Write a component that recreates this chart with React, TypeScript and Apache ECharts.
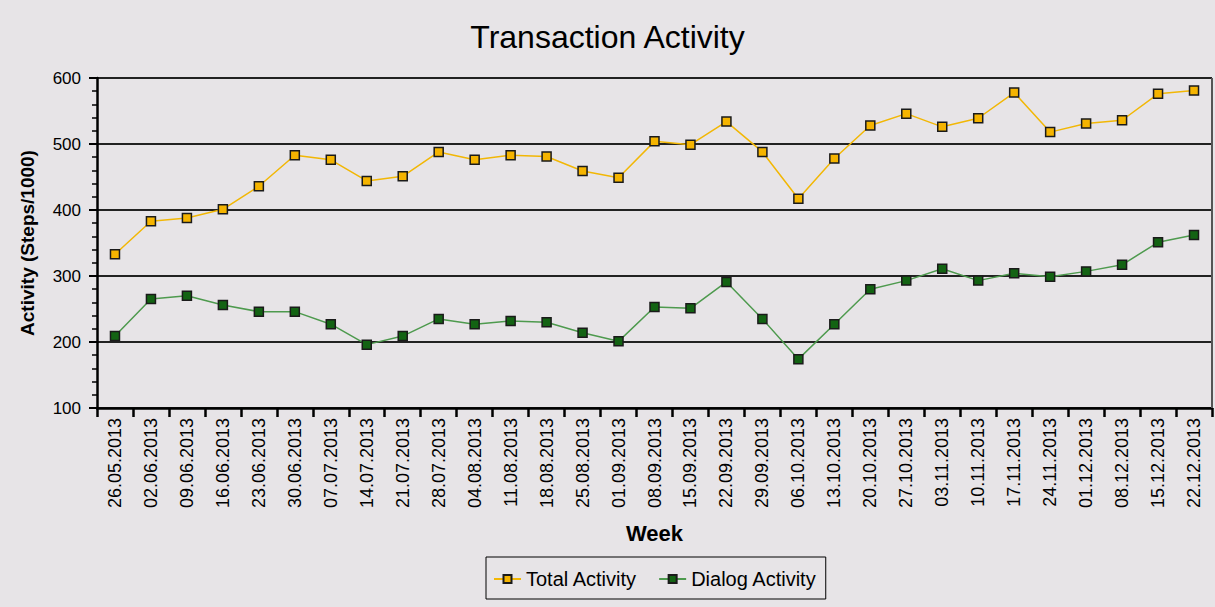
import React, { useEffect, useRef } from "react";
import * as echarts from "echarts";

const weeks = [
  "26.05.2013", "02.06.2013", "09.06.2013", "16.06.2013", "23.06.2013", "30.06.2013",
  "07.07.2013", "14.07.2013", "21.07.2013", "28.07.2013", "04.08.2013", "11.08.2013",
  "18.08.2013", "25.08.2013", "01.09.2013", "08.09.2013", "15.09.2013", "22.09.2013",
  "29.09.2013", "06.10.2013", "13.10.2013", "20.10.2013", "27.10.2013", "03.11.2013",
  "10.11.2013", "17.11.2013", "24.11.2013", "01.12.2013", "08.12.2013", "15.12.2013",
  "22.12.2013",
];

const totalActivity = [
  333, 383, 388, 401, 436, 483, 476, 444, 451, 488, 476, 483, 481, 459, 449, 504,
  499, 534, 488, 417, 478, 528, 546, 526, 539, 578, 518, 531, 536, 576, 581,
];

const dialogActivity = [
  209, 265, 270, 256, 246, 246, 227, 196, 209, 235, 227, 232, 230, 214, 201, 253,
  251, 291, 235, 174, 227, 280, 293, 311, 293, 304, 299, 307, 317, 351, 362,
];

const FONT = "'Liberation Sans', Arial, sans-serif";

export default function App() {
  const ref = useRef<HTMLDivElement>(null);
  useEffect(() => {
    if (!ref.current) return;
    const chart = echarts.init(ref.current, undefined, { renderer: "svg" });
    chart.setOption({
      animation: false,
      backgroundColor: "#e7e4e7",
      textStyle: { fontFamily: FONT },
      title: {
        text: "Transaction Activity",
        left: "center",
        top: 16,
        textStyle: { fontFamily: FONT, fontSize: 32, fontWeight: "normal", color: "#000" },
      },
      legend: {
        bottom: 8,
        left: 486,
        itemGap: 21,
        itemWidth: 27,
        itemHeight: 10,
        padding: [12, 9, 10, 7],
        borderColor: "#000",
        borderWidth: 1,
        textStyle: { fontFamily: FONT, fontSize: 20, color: "#000" },
        data: ["Total Activity", "Dialog Activity"],
      },
      grid: { left: 97, right: 3, top: 78, bottom: 199, containLabel: false },
      xAxis: {
        type: "category",
        data: weeks,
        boundaryGap: true,
        name: "Week",
        nameLocation: "middle",
        nameGap: 114,
        nameTextStyle: { fontFamily: FONT, fontSize: 22, fontWeight: "bold", color: "#000" },
        axisLine: { lineStyle: { color: "#000", width: 2.5 } },
        axisTick: { show: true, length: 9, lineStyle: { color: "#000", width: 2.5 } },
        axisLabel: {
          rotate: 90,
          interval: 0,
          margin: 10,
          fontSize: 18,
          color: "#000",
          fontFamily: FONT,
        },
        splitLine: { show: false },
      },
      yAxis: {
        type: "value",
        min: 100,
        max: 600,
        interval: 100,
        name: "Activity (Steps/1000)",
        nameLocation: "middle",
        nameGap: 60,
        nameTextStyle: { fontFamily: FONT, fontSize: 19, fontWeight: "bold", color: "#000" },
        axisLine: { show: true, lineStyle: { color: "#000", width: 2.5 } },
        axisTick: { show: true, length: 8, lineStyle: { color: "#000", width: 2 } },
        minorTick: { show: true, splitNumber: 5, length: 5, lineStyle: { color: "#000", width: 1.5 } },
        axisLabel: { fontSize: 17, color: "#000", fontFamily: FONT, margin: 16 },
        splitLine: { show: true, lineStyle: { color: "#222", width: 1.8 } },
      },
      series: [
        {
          name: "Total Activity",
          type: "line",
          data: totalActivity,
          symbol: "rect",
          symbolSize: 9,
          lineStyle: { color: "#f2b705", width: 1.5 },
          itemStyle: { color: "#f5b400", borderColor: "#1a1a1a", borderWidth: 1.5 },
          z: 3,
        },
        {
          name: "Dialog Activity",
          type: "line",
          data: dialogActivity,
          symbol: "rect",
          symbolSize: 9,
          lineStyle: { color: "#4e9a4e", width: 1.5 },
          itemStyle: { color: "#136313", borderColor: "#1a1a1a", borderWidth: 1.5 },
          z: 3,
        },
      ],
      graphic: [
        {
          type: "line",
          shape: { x1: 1212, y1: 78, x2: 1212, y2: 408 },
          style: { stroke: "#555", lineWidth: 2 },
          z: 2,
        },
      ],
    });
    return () => chart.dispose();
  }, []);
  return <div ref={ref} style={{ width: 1215, height: 607, position: "absolute", left: 0, top: 0 }} />;
}
